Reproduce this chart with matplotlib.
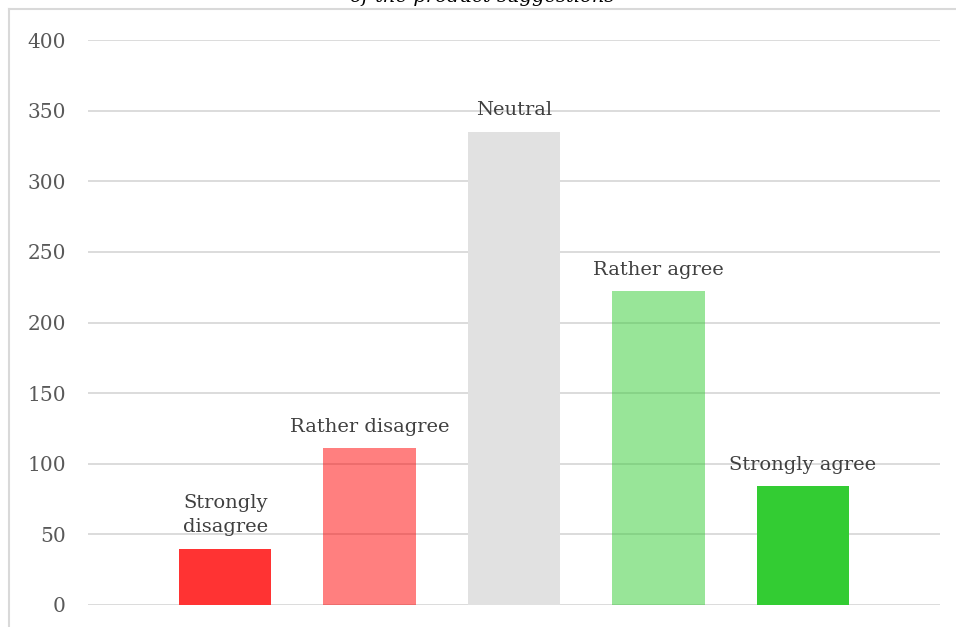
import matplotlib
matplotlib.use("Agg")
import matplotlib.pyplot as plt
from matplotlib.lines import Line2D

categories = ["Strongly\ndisagree", "Rather disagree", "Neutral", "Rather agree", "Strongly agree"]
values = [40, 111, 335, 222, 84]
colors = ["#FF3333", "#FF0000", "#E1E1E1", "#33CC33", "#33CC33"]
alphas = [1.0, 0.5, 1.0, 0.5, 1.0]
yticks = [0, 50, 100, 150, 200, 250, 300, 350, 400]
title = "of the product suggestions"

plt.rcParams['font.family'] = ['DejaVu Serif']

fig = plt.figure(figsize=(9.56, 6.27), dpi=100)
ax = fig.add_axes([88/956, 22/627, (940-88)/956, (605-40)/627])

x = list(range(len(values)))
ax.set_axisbelow(True)
ax.yaxis.grid(True, color="#D9D9D9", linewidth=1.3)
for xi, v, c, a, lab in zip(x, values, colors, alphas, categories):
    ax.bar(xi, v, width=0.64, color=c, alpha=a, linewidth=0)
    ax.annotate(lab, (xi, v), xytext=(0, 9), textcoords="offset points",
                ha="center", va="bottom", fontsize=14, color="#404040",
                linespacing=1.45)

ax.set_xlim(-0.95, 4.95)
ax.set_ylim(0, 400)
ax.set_yticks(yticks)
ax.set_xticks([])
ax.tick_params(axis="y", length=0, pad=16, labelsize=14.5, labelcolor="#595959")
for s in ax.spines.values():
    s.set_visible(False)

# outer frame (left and top)
fig.add_artist(Line2D([9/956, 9/956], [0, 1 - 9/627], transform=fig.transFigure,
                      color="#D9D9D9", linewidth=1.5))
fig.add_artist(Line2D([9/956, 1], [1 - 9/627, 1 - 9/627], transform=fig.transFigure,
                      color="#D9D9D9", linewidth=1.5))

fig.text(482/956, 1 - 1.5/627, title, ha="center", va="baseline",
         fontsize=14, style="italic", color="#000000")

fig.savefig("out.png", dpi=100)
